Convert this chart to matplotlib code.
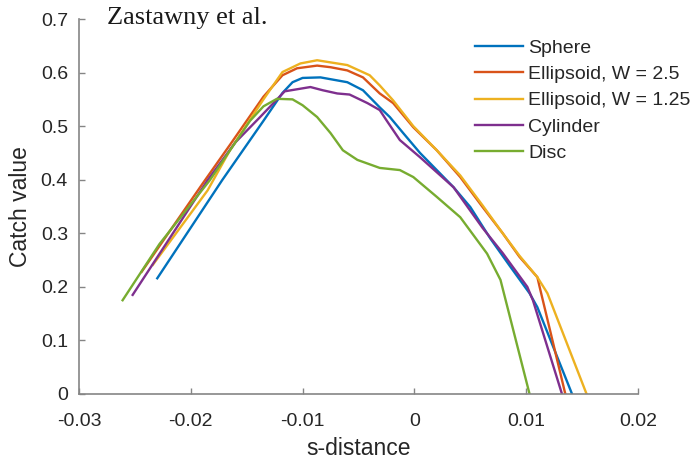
import numpy as np
import matplotlib
matplotlib.use("Agg")
import matplotlib.pyplot as plt

# curves (s-distance, catch value)
sphere_x = [-0.0230, -0.0172, -0.0135, -0.0118, -0.0109, -0.0100, -0.0084, -0.0060, -0.0046, -0.0031,
            -0.0022, -0.0010, 0.0005, 0.0020, 0.0035, 0.0050, 0.0068, 0.0085, 0.0103, 0.0110, 0.0141]
sphere_y = [0.216, 0.399, 0.510, 0.562, 0.582, 0.590, 0.591, 0.582, 0.567, 0.535,
            0.517, 0.487, 0.450, 0.418, 0.386, 0.349, 0.290, 0.240, 0.188, 0.162, 0.0]

ell25_x = [-0.0244, -0.0189, -0.0165, -0.0135, -0.0118, -0.0105, -0.0087, -0.0075, -0.0060, -0.0046,
           -0.0031, -0.0019, -0.0001, 0.0020, 0.0041, 0.0061, 0.0079, 0.0094, 0.0110, 0.0112, 0.0135]
ell25_y = [0.228, 0.394, 0.465, 0.555, 0.595, 0.608, 0.613, 0.610, 0.604, 0.591,
           0.561, 0.543, 0.498, 0.455, 0.405, 0.349, 0.300, 0.256, 0.218, 0.200, 0.0]

ell125_x = [-0.0234, -0.0185, -0.0165, -0.0135, -0.0118, -0.0102, -0.0087, -0.0060, -0.0040, -0.0031,
            -0.0019, -0.0001, 0.0020, 0.0041, 0.0061, 0.0079, 0.0094, 0.0110, 0.0119, 0.0154]
ell125_y = [0.241, 0.380, 0.455, 0.550, 0.601, 0.617, 0.623, 0.614, 0.595, 0.576,
            0.548, 0.500, 0.455, 0.408, 0.352, 0.300, 0.258, 0.218, 0.188, 0.0]

cyl_x = [-0.0252, -0.0185, -0.0160, -0.0138, -0.0116, -0.0093, -0.0082, -0.0069, -0.0058, -0.0042,
         -0.0031, -0.0025, -0.0013, 0.0005, 0.0035, 0.0061, 0.0079, 0.0101, 0.0106, 0.0132]
cyl_y = [0.185, 0.399, 0.470, 0.517, 0.565, 0.573, 0.567, 0.561, 0.559, 0.543,
         0.530, 0.511, 0.474, 0.442, 0.386, 0.310, 0.263, 0.200, 0.175, 0.0]

disc_x = [-0.0261, -0.0228, -0.0183, -0.0160, -0.0147, -0.0135, -0.0123, -0.0109, -0.0100, -0.0087,
          -0.0075, -0.0064, -0.0051, -0.0031, -0.0013, -0.0001, 0.0020, 0.0041, 0.0065, 0.0077, 0.0103]
disc_y = [0.175, 0.280, 0.399, 0.470, 0.510, 0.537, 0.551, 0.550, 0.539, 0.517,
          0.487, 0.455, 0.437, 0.422, 0.418, 0.405, 0.368, 0.330, 0.262, 0.213, 0.0]

series = [
    ("Sphere", sphere_x, sphere_y, "#0072BD"),
    ("Ellipsoid, W = 2.5", ell25_x, ell25_y, "#D95319"),
    ("Ellipsoid, W = 1.25", ell125_x, ell125_y, "#EDB120"),
    ("Cylinder", cyl_x, cyl_y, "#7E2F8E"),
    ("Disc", disc_x, disc_y, "#77AC30"),
]

plt.rcParams['font.family'] = ['Liberation Sans', 'DejaVu Sans']

fig = plt.figure(figsize=(6.91, 4.63), dpi=100)
ax = fig.add_axes([79/691, 69/463, 559/691, 375/463])

for name, xs, ys, col in series:
    ax.plot(xs, ys, color=col, lw=1.7, label=name)

ax.set_xlim(-0.03, 0.02)
ax.set_ylim(0, 0.7)
ax.set_xticks([-0.03, -0.02, -0.01, 0, 0.01, 0.02])
ax.set_xticklabels(["-0.03", "-0.02", "-0.01", "0", "0.01", "0.02"])
ax.set_yticks(np.arange(0, 0.71, 0.1))
ax.set_yticklabels(["0", "0.1", "0.2", "0.3", "0.4", "0.5", "0.6", "0.7"])

for s in ["top", "right"]:
    ax.spines[s].set_visible(False)
for s in ["left", "bottom"]:
    ax.spines[s].set_color("#858585")
    ax.spines[s].set_linewidth(1.2)
ax.tick_params(direction="in", length=4, width=1, color="#858585",
               labelsize=14, labelcolor="#262626")
ax.tick_params(axis="x", pad=14)
ax.tick_params(axis="y", pad=8)

ax.set_xlabel("s-distance", fontsize=16.5, color="#262626", labelpad=5)
ax.set_ylabel("Catch value", fontsize=16.5, color="#262626", labelpad=6)

fig.text(107/691, 1 - 7/463, "Zastawny et al.", family="Liberation Serif",
         fontsize=19, va="top", ha="left", color="#1a1a1a")

leg = ax.legend(loc="upper left", bbox_to_anchor=(475/691, 1 - 39/463),
                bbox_transform=fig.transFigure, frameon=False, fontsize=14,
                handlelength=2.45, handletextpad=0.3, labelspacing=0.45,
                borderpad=0, borderaxespad=0)
for t in leg.get_texts():
    t.set_color("#262626")

fig.savefig("out.png", dpi=100)
